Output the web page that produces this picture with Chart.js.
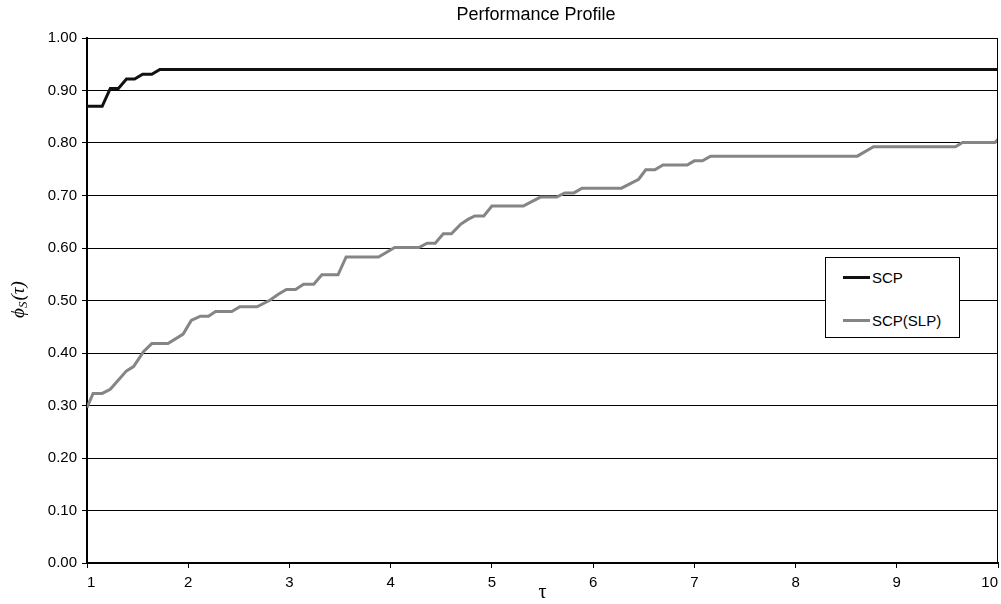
<!DOCTYPE html>
<html lang="en">
<head>
  <meta charset="UTF-8" />
  <title>Performance Profile</title>
  <script src="https://cdn.jsdelivr.net/npm/chart.js@4.4.1/dist/chart.umd.min.js"></script>
  <style>
    *{margin:0;padding:0;box-sizing:border-box}
    body{background:#fff;font-family:"Liberation Sans",Arial,sans-serif}
    .wrap{position:relative;width:1001px;height:604px}
    .legend{position:absolute;left:825px;top:257px;width:135px;height:81px;background:#fff;border:1px solid #000;padding-top:9px}
    .legend div{display:flex;align-items:center;height:21px;margin-bottom:22px;font-size:15px;color:#000}
    .legend span{display:inline-block;width:27px;height:3px;margin-left:17px;margin-right:2px}
  </style>
</head>
<body>
  <div class="wrap">
    <canvas id="perf" width="1001" height="604"></canvas>
    <div class="legend" id="legend"></div>
  </div>
  <script>
    // data
    const seriesNames = ['SCP', 'SCP(SLP)'];
    const tauScp = [1.00, 1.15, 1.23, 1.31, 1.39, 1.47, 1.55, 1.64, 1.72, 10.00];
    const phiScp = [0.870, 0.870, 0.904, 0.904, 0.922, 0.922, 0.931, 0.931, 0.940, 0.940];
    const tauSlp = [1.00, 1.06, 1.15, 1.23, 1.39, 1.46, 1.56, 1.64, 1.80, 1.95, 2.03, 2.12, 2.20, 2.27, 2.43, 2.51, 2.68, 2.81, 2.89, 2.97, 3.06, 3.14, 3.24, 3.32, 3.48, 3.56, 3.88, 4.04, 4.28, 4.36, 4.44, 4.52, 4.60, 4.69, 4.76, 4.83, 4.92, 5.00, 5.31, 5.48, 5.64, 5.72, 5.81, 5.89, 6.28, 6.45, 6.52, 6.61, 6.69, 6.93, 7.00, 7.08, 7.16, 8.61, 8.77, 9.58, 9.65, 9.97, 10.00];
    const phiSlp = [0.296, 0.323, 0.323, 0.331, 0.366, 0.374, 0.403, 0.418, 0.418, 0.436, 0.462, 0.470, 0.470, 0.479, 0.479, 0.488, 0.488, 0.501, 0.512, 0.521, 0.521, 0.531, 0.531, 0.549, 0.549, 0.583, 0.583, 0.601, 0.601, 0.609, 0.609, 0.627, 0.627, 0.645, 0.654, 0.661, 0.661, 0.680, 0.680, 0.697, 0.697, 0.705, 0.705, 0.714, 0.714, 0.731, 0.749, 0.749, 0.758, 0.758, 0.766, 0.766, 0.775, 0.775, 0.793, 0.793, 0.801, 0.801, 0.807];
    const xTicks = [1, 2, 3, 4, 5, 6, 7, 8, 9, 10];

    const pts = (xs, ys) => xs.map((x, i) => ({x: x, y: ys[i]}));

    // title, axis titles and right border
    const extras = {
      id: 'extras',
      afterDraw(chart) {
        const c = chart.ctx, a = chart.chartArea;
        c.save();
        c.strokeStyle = '#000'; c.lineWidth = 1;
        c.beginPath(); c.moveTo(a.right - 0.5, a.top); c.lineTo(a.right - 0.5, a.bottom); c.stroke();
        c.fillStyle = '#000';
        c.textAlign = 'center'; c.textBaseline = 'middle';
        c.font = '18px "Liberation Sans", Arial, sans-serif';
        c.fillText('Performance Profile', 536, 15);
        c.font = '20px "Liberation Serif", "Times New Roman", serif';
        c.fillText('τ', (a.left + a.right) / 2, 593);
        // y title: phi_s(tau), rotated
        c.translate(19, 300);
        c.rotate(-Math.PI / 2);
        c.textAlign = 'left';
        c.font = 'italic 19px "Liberation Serif", serif';
        let w1 = c.measureText('ϕ').width;
        c.font = 'italic 13px "Liberation Serif", serif';
        let w2 = c.measureText('S').width;
        c.font = 'italic 19px "Liberation Serif", serif';
        let w3 = c.measureText('(τ)').width;
        let x0 = -(w1 + w2 + w3) / 2;
        c.fillText('ϕ', x0, 0);
        c.font = 'italic 13px "Liberation Serif", serif';
        c.fillText('S', x0 + w1, 5);
        c.font = 'italic 19px "Liberation Serif", serif';
        c.fillText('(τ)', x0 + w1 + w2 + 1, 0);
        c.restore();
      }
    };

    const chart = new Chart(document.getElementById('perf').getContext('2d'), {
      type: 'line',
      data: {
        datasets: [
          {label: seriesNames[0], data: pts(tauScp, phiScp), borderColor: '#111', borderWidth: 3, pointRadius: 0, tension: 0},
          {label: seriesNames[1], data: pts(tauSlp, phiSlp), borderColor: '#858585', borderWidth: 3, pointRadius: 0, tension: 0}
        ]
      },
      options: {
        responsive: false,
        animation: false,
        layout: {padding: {top: 38, right: 3, left: 0, bottom: 0}},
        plugins: {legend: {display: false}, title: {display: false}, tooltip: {enabled: false}},
        scales: {
          x: {
            type: 'linear', min: 1, max: 10,
            afterBuildTicks: s => { s.ticks = xTicks.map(v => ({value: v})); },
            afterFit: s => { s.height = 41; s.paddingLeft = 0; s.paddingRight = 0; },
            grid: {drawOnChartArea: false, color: '#000', tickLength: 5, lineWidth: 1},
            border: {color: '#000', width: 2},
            ticks: {color: '#000', font: {size: 15, family: '"Liberation Sans", Arial'}, padding: 6, maxRotation: 0, align: 'inner'}
          },
          y: {
            min: 0, max: 1,
            afterFit: s => { s.width = 87; s.paddingTop = 0; s.paddingBottom = 0; },
            grid: {color: '#000', tickLength: 5, lineWidth: 1},
            border: {color: '#000', width: 2},
            ticks: {stepSize: 0.1, color: '#000', font: {size: 15, family: '"Liberation Sans", Arial'}, padding: 5, callback: v => v.toFixed(2)}
          }
        }
      },
      plugins: [extras]
    });

    // legend box
    const lg = document.getElementById('legend');
    chart.data.datasets.forEach(d => {
      const row = document.createElement('div');
      row.innerHTML = '<span style="background:' + d.borderColor + '"></span>' + d.label;
      lg.appendChild(row);
    });
  </script>
</body>
</html>
